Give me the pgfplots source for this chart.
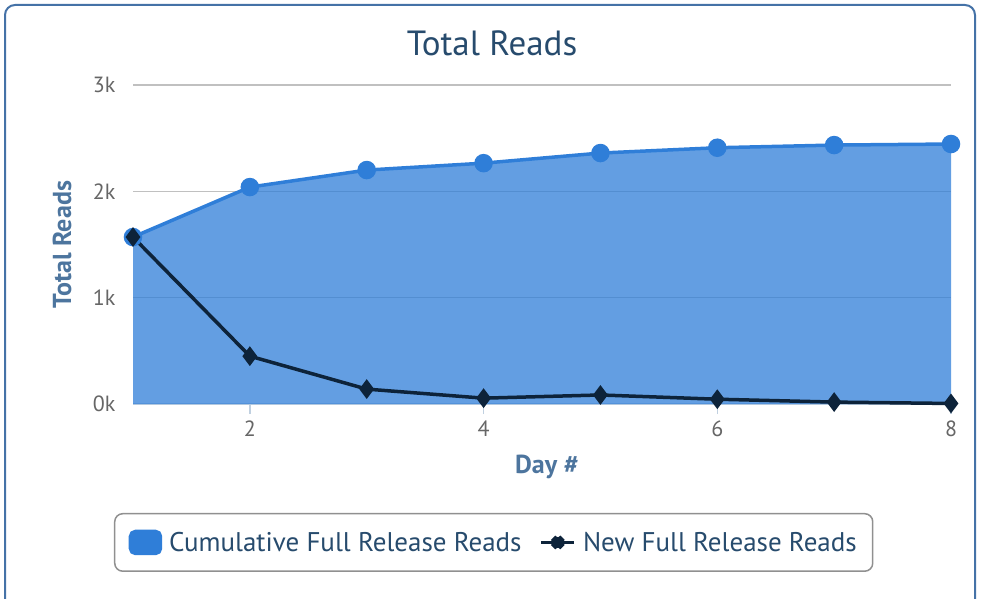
\documentclass[border=0pt]{standalone}
\usepackage{pgfplots}
\pgfplotsset{compat=1.18}
\usepackage{fontspec}
\setmainfont{PT Sans}
\definecolor{titlec}{HTML}{274B6D}
\definecolor{labc}{HTML}{4D759E}
\definecolor{tickc}{HTML}{666666}
\definecolor{gridc}{HTML}{C0C0C0}
\definecolor{axc}{HTML}{C0D0E0}
\definecolor{framec}{HTML}{4572A7}
\definecolor{legc}{HTML}{909090}
\definecolor{cumc}{HTML}{2F7ED8}
\definecolor{newc}{HTML}{0D233A}
\begin{document}
\begin{tikzpicture}[x=1pt,y=1pt]
\useasboundingbox (0,0) rectangle (982,598);
\begin{scope}
\clip (0,0) rectangle (982,598);
\draw[framec, line width=2pt, rounded corners=10pt] (5,-20) rectangle (975,593);
\end{scope}
\begin{axis}[
  at={(133pt,194pt)}, anchor=south west,
  scale only axis, width=818pt, height=319pt,
  xmin=1, xmax=8, ymin=0, ymax=3000,
  clip=false,
  axis lines*=left,
  y axis line style={draw=none},
  x axis line style={draw=axc, line width=1.5pt},
  ymajorgrids, grid style={draw=gridc, line width=1.2pt},
  ytick={0,1000,2000,3000}, yticklabels={0k,1k,2k,3k},
  xtick={2,4,6,8}, xticklabels={2,4,6,8},
  ytick style={draw=none},
  xtick style={draw=axc, line width=1.5pt},
  tick align=outside, major tick length=10pt,
  yticklabel style={font=\fontsize{22}{26}\selectfont, text=tickc, xshift=-4pt},
  xticklabel style={font=\fontsize{22}{26}\selectfont, text=tickc, yshift=-3pt},
  title={Total Reads},
  title style={at={(axis description cs:0.439,1.113)}, anchor=center, font=\fontsize{35}{40}\selectfont, text=titlec},
  xlabel={\textbf{Day \#}},
  ylabel={\textbf{Total Reads}},
  xlabel style={at={(axis description cs:0.506,-0.1975)}, anchor=center, font=\fontsize{26}{30}\selectfont, text=labc},
  ylabel style={at={(axis description cs:-0.0868,0.5)}, anchor=center, font=\fontsize{26}{30}\selectfont, text=labc},
  legend columns=2,
  legend style={at={(axis description cs:0.441,-0.434)}, anchor=center,
    draw=legc, line width=1.5pt, rounded corners=8pt,
    font=\fontsize{27}{31}\selectfont, text=titlec,
    inner xsep=14pt, inner ysep=16pt,
    /tikz/every odd column/.append style={column sep=5pt},
    /tikz/every even column/.append style={column sep=16pt}},
]
\addplot[draw=none, fill=cumc, fill opacity=0.75, forget plot] coordinates {
(1,1570) (2,2040) (3,2200) (4,2265) (5,2360) (6,2410) (7,2435) (8,2445)
} \closedcycle;
\addplot[cumc, line width=3.5pt, mark=*, mark size=7.5pt,
  legend image code/.code={\fill[cumc, rounded corners=5pt] (0pt,-11pt) rectangle (30pt,11pt);}]
coordinates {
(1,1570) (2,2040) (3,2200) (4,2265) (5,2360) (6,2410) (7,2435) (8,2445)
};
\addlegendentry{Cumulative Full Release Reads}
\addplot[newc, line width=3.5pt, mark=diamond*, mark size=7pt,
  legend image code/.code={\draw[newc, line width=3.5pt] (0pt,0pt) -- (33pt,0pt); \fill[newc] (16.5pt,7pt) -- (23.5pt,0pt) -- (16.5pt,-7pt) -- (9.5pt,0pt) -- cycle;}]
coordinates {
(1,1570) (2,450) (3,140) (4,55) (5,85) (6,45) (7,18) (8,5)
};
\addlegendentry{New Full Release Reads}
\end{axis}
\end{tikzpicture}
\end{document}
